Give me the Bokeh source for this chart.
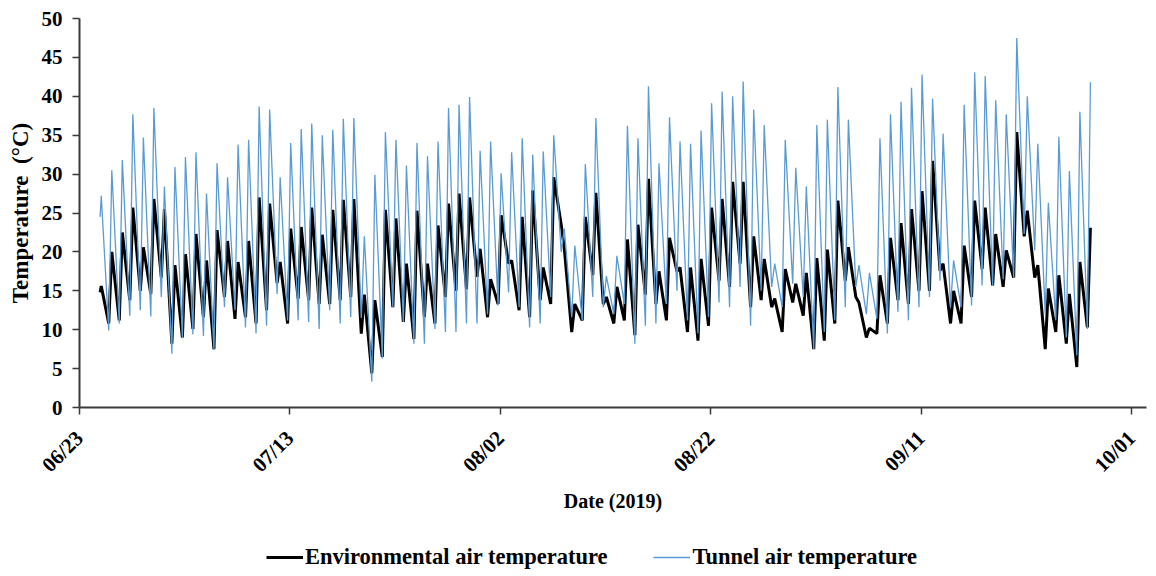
import numpy as np
import pandas as pd
from bokeh.plotting import figure
from bokeh.layouts import column
from bokeh.models import (FixedTicker, DatetimeTickFormatter, Range1d, Legend,
                          LegendItem)
from bokeh.embed import file_html
from bokeh.resources import INLINE

# ---------------- data ----------------
axis_start = "2019-06-23"
axis_ticks = ["2019-06-23", "2019-07-13", "2019-08-02", "2019-08-22",
              "2019-09-11", "2019-10-01"]
series_start = "2019-06-24 23:00"
first_peak = "2019-06-25 01:40"

tunnel_start = 24.5
env_start = 14.8

# daily maxima of the tunnel air temperature (06/25 .. 09/27)
tunnel_peaks = [
    27.2, 30.5, 31.8, 37.7, 34.7, 38.5, 28.4, 30.9, 32.2, 32.8, 27.5, 31.4,
    29.6, 33.8, 34.4, 38.7, 38.3,
    29.6, 34.0, 35.8, 36.5, 35.0, 35.7, 37.1, 37.2, 22.0, 29.9, 35.4, 34.4,
    31.1, 34.0, 32.3, 34.2,
    38.5, 38.9, 39.9, 33.0, 34.2, 30.1, 32.8, 34.6, 32.5, 32.9, 35.0, 23.0,
    20.8, 31.3, 37.2, 16.9, 19.5,
    36.2, 34.6, 41.3, 31.4, 37.3, 34.2, 33.9, 35.6, 39.1, 40.6, 40.0, 41.9,
    38.3, 36.3, 18.5, 34.4,
    30.8, 28.4, 36.3, 37.0, 41.2, 37.0, 18.3, 17.3, 34.6, 37.7, 39.3, 41.1,
    42.8, 39.7, 35.2, 18.9, 38.9,
    43.1, 42.6, 39.5, 37.7, 47.5, 40.0, 33.9, 26.3, 34.8, 30.4, 38.0, 41.8,
]
# night minima of the tunnel air temperature (between consecutive maxima)
tunnel_lows = [
    9.9, 10.8, 11.8, 12.5, 11.7, 14.2, 6.9, 8.9, 9.4, 9.2, 7.4, 12.9, 12.5,
    10.3, 9.5, 10.5,
    14.6, 11.2, 11.2, 11.0, 10.1, 12.5, 10.8, 11.6, 11.5, 3.3, 6.3, 12.9,
    11.0, 8.2, 8.2, 10.1,
    9.7,
    9.7, 10.8, 10.8, 12.0, 13.1, 14.8, 12.9, 10.3, 10.8, 14.2, 20.0, 11.6,
    11.2, 14.2, 12.9, 12.0,
    13.3,
    8.2, 10.5, 10.8, 13.3, 15.0, 11.2, 9.5, 11.6, 13.5, 12.9, 15.5, 10.5,
    15.0, 15.5, 12.9,
    15.9,
    14.2, 7.5, 9.7, 11.2, 12.9, 15.5, 12.0, 11.4, 9.5, 12.3, 11.2, 12.9,
    14.2, 16.3, 12.9, 12.9,
    13.1,
    15.7, 15.7, 16.5, 16.7, 22.3, 20.2, 12.0, 11.2, 9.0, 6.7, 10.1,
]
# daily maxima of the environmental air temperature
env_peaks = [
    15.6, 20.0, 22.5, 25.7, 20.6, 26.8, 25.5, 18.3, 19.7, 22.3, 18.9, 22.8,
    21.4, 18.7, 21.4, 27.0, 26.2,
    18.7, 23.0, 23.2, 25.7, 22.2, 25.4, 26.7, 26.8, 14.5, 13.8, 25.4, 24.3,
    18.5, 25.3, 18.5, 23.4,
    26.2, 27.5, 27.0, 20.4, 16.5, 24.7, 18.9, 24.5, 27.9, 18.0, 29.6, 20.5,
    13.3, 24.5, 27.6, 14.2, 15.5,
    21.6, 23.5, 29.4, 17.5, 21.8, 18.0, 18.0, 19.1, 25.7, 26.8, 29.0, 29.0,
    22.0, 19.1, 14.0, 17.8,
    15.9, 17.3, 19.2, 20.3, 26.6, 20.6, 13.5, 10.2, 17.0, 21.8, 23.7, 25.5,
    27.8, 31.7, 18.5, 15.0, 20.8,
    26.6, 25.7, 22.3, 20.2, 35.4, 25.3, 18.3, 15.3, 17.0, 14.6, 18.7, 23.1,
]
# night minima of the environmental air temperature
env_lows = [
    10.8, 11.2, 13.8, 15.0, 14.6, 16.7, 8.2, 9.0, 10.1, 11.6, 7.5, 14.2,
    11.4, 11.6, 10.8, 12.5,
    16.0, 10.8, 14.0, 13.8, 13.3, 13.3, 13.8, 14.2, 9.5, 4.4, 6.5, 12.9,
    11.0, 8.8, 11.6, 10.8,
    14.2,
    15.0, 15.2, 16.8, 11.6, 13.3, 18.5, 12.5, 11.6, 13.8, 13.3, 23.5, 9.7,
    11.2, 17.0, 13.3, 10.8,
    11.2,
    9.3, 14.5, 13.3, 11.2, 17.5, 9.7, 8.6, 10.5, 16.3, 15.5, 18.5, 12.9,
    13.8, 12.9, 9.7,
    13.5,
    11.8, 7.5, 8.6, 10.8, 16.3, 14.2, 9.0, 9.5, 10.8, 13.8, 13.3, 15.0,
    15.0, 17.6, 10.8, 10.8,
    14.2,
    17.8, 15.7, 15.5, 16.7, 22.0, 16.7, 7.5, 9.7, 8.2, 5.2, 10.3,
]

series_names = ["Environmental air temperature", "Tunnel air temperature"]
series_colors = ["black", "#5B9BD5"]

# ---------------- build the time series ----------------
peak_times = pd.date_range(first_peak, periods=len(tunnel_peaks), freq="D")
low_times = peak_times[:-1] + pd.Timedelta(hours=17)


def interleave(start_t, start_v, peaks, lows):
    xs, ys = [pd.Timestamp(start_t)], [start_v]
    for i, pv in enumerate(peaks):
        xs.append(peak_times[i])
        ys.append(pv)
        if i < len(lows) and i < len(low_times):
            xs.append(low_times[i])
            ys.append(lows[i])
    return xs, ys


tx, ty = interleave(series_start, tunnel_start, tunnel_peaks, tunnel_lows)
ex, ey = interleave(series_start, env_start, env_peaks, env_lows)

# ---------------- main figure ----------------
x0 = pd.Timestamp(axis_start)
FONT = "Liberation Serif"
W, H_MAIN, H_LEG = 1156, 520, 56

p = figure(width=W, height=H_MAIN, x_axis_type="datetime",
           output_backend="svg", toolbar_location=None,
           x_range=Range1d(x0, x0 + pd.Timedelta(days=101.4)),
           y_range=Range1d(0, 50),
           min_border_left=79, min_border_right=10,
           min_border_top=18, min_border_bottom=113)
p.outline_line_color = None
p.xgrid.grid_line_color = None
p.ygrid.grid_line_color = None
p.background_fill_color = "white"
p.border_fill_color = "white"

p.line(ex, ey, line_color=series_colors[0], line_width=3)
p.line(tx, ty, line_color=series_colors[1], line_width=1.3)

tick_ms = [pd.Timestamp(t).value / 1e6 for t in axis_ticks]
p.xaxis.ticker = FixedTicker(ticks=tick_ms)
fmt = "%m/%d"
p.xaxis.formatter = DatetimeTickFormatter(
    microseconds=fmt, milliseconds=fmt, seconds=fmt, minsec=fmt,
    minutes=fmt, hourmin=fmt, hours=fmt, days=fmt, months=fmt, years=fmt)
p.xaxis.major_label_orientation = np.pi / 4
p.yaxis.ticker = FixedTicker(ticks=list(range(0, 51, 5)))

for ax in (p.xaxis[0], p.yaxis[0]):
    ax.axis_line_color = "#3a3a3a"
    ax.axis_line_width = 2
    ax.major_tick_line_color = "#3a3a3a"
    ax.major_tick_line_width = 1.5
    ax.major_tick_out = 7
    ax.major_tick_in = 0
    ax.minor_tick_line_color = None
    ax.major_label_text_font = FONT
    ax.major_label_text_font_style = "bold"
    ax.major_label_text_font_size = "21px"
    ax.major_label_text_color = "black"
    ax.axis_label_text_font = FONT
    ax.axis_label_text_font_style = "bold"
    ax.axis_label_text_color = "black"

p.xaxis.axis_label = "Date (2019)"
p.yaxis.axis_label = "Temperature \u00a0(°C)"
p.xaxis.axis_label_text_font_size = "20px"
p.yaxis.axis_label_text_font_size = "23px"
p.xaxis.major_label_standoff = 20
p.yaxis.major_label_standoff = 10
p.xaxis.axis_label_standoff = 2
p.yaxis.axis_label_standoff = 6

# ---------------- legend strip under the chart ----------------
pl = figure(width=W, height=H_LEG, output_backend="svg",
            toolbar_location=None, min_border=0,
            x_range=Range1d(0, 1), y_range=Range1d(0, 1))
pl.axis.visible = False
pl.xgrid.grid_line_color = None
pl.ygrid.grid_line_color = None
pl.outline_line_color = None
# legend proxies: their points lie outside the strip's visible range
proxy_env = pl.line(x=[5, 6], y=[5, 6], line_color=series_colors[0],
                    line_width=3)
proxy_tun = pl.line(x=[5, 6], y=[5, 6], line_color=series_colors[1],
                    line_width=1.5)

legend = Legend(items=[
    LegendItem(label=series_names[0], renderers=[proxy_env]),
    LegendItem(label=series_names[1], renderers=[proxy_tun]),
], orientation="horizontal", location=(187, 6))
legend.label_text_font = FONT
legend.label_text_font_style = "bold"
legend.label_text_font_size = "22.5px"
legend.label_text_color = "black"
legend.glyph_width = 37
legend.label_standoff = 2
legend.spacing = 46
legend.padding = 4
legend.margin = 0
legend.border_line_color = None
legend.background_fill_alpha = 0
pl.add_layout(legend, "center")

page = column(p, pl, spacing=0)
open("out.html", "w").write(file_html(page, INLINE))
